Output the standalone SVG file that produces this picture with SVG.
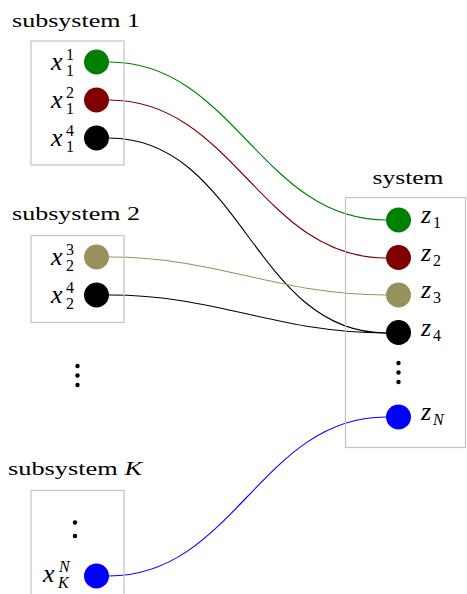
<svg xmlns="http://www.w3.org/2000/svg" width="467" height="594" viewBox="0 0 467 594" font-family="'Liberation Serif', serif">
<style>
.box{fill:none;stroke:#c4c4c4;stroke-width:1.2}
.title{font-size:19px}
.m{font-style:italic;font-size:26px}
.s{font-size:16px}
.si{font-style:italic;font-size:16px}
.c{fill:none;stroke-width:1.1}
</style>
<rect width="467" height="594" fill="#fff"/>
<g id="connectors">
<path class="c" stroke="#008000" d="M109,62 C234,62 261,220 386,220"/>
<path class="c" stroke="#800000" d="M109,100 C234,100 261,258 386,258"/>
<path class="c" stroke="#000" d="M109,138 C241.6,138 253.4,333 386,333"/>
<path class="c" stroke="#97915d" d="M109,257 C218.5,257 276.5,295 386,295"/>
<path class="c" stroke="#000" d="M109,295 C218.5,295 276.5,333 386,333"/>
<path class="c" stroke="#0000ff" d="M109,576 C234,576 261,417 386,417"/>
</g>
<g id="subsystem1">
<text class="title" x="12" y="27" textLength="128" lengthAdjust="spacingAndGlyphs">subsystem 1</text>
<rect class="box" x="31" y="41" width="93" height="124"/>
<circle cx="96.5" cy="62" r="12.5" fill="#008000"/>
<circle cx="96.5" cy="100" r="12.5" fill="#800000"/>
<circle cx="96.5" cy="138" r="12.5" fill="#000"/>
<text class="m" x="51" y="70">x</text><text class="s" x="66" y="60">1</text><text class="s" x="66" y="76">1</text>
<text class="m" x="51" y="108">x</text><text class="s" x="66" y="98">2</text><text class="s" x="66" y="114">1</text>
<text class="m" x="51" y="146">x</text><text class="s" x="66" y="136">4</text><text class="s" x="66" y="152">1</text>
</g>
<g id="subsystem2">
<text class="title" x="12" y="220" textLength="128" lengthAdjust="spacingAndGlyphs">subsystem 2</text>
<rect class="box" x="31" y="235.5" width="93" height="87"/>
<circle cx="96.5" cy="257" r="12.5" fill="#97915d"/>
<circle cx="96.5" cy="295" r="12.5" fill="#000"/>
<text class="m" x="51" y="265">x</text><text class="s" x="66" y="255">3</text><text class="s" x="66" y="271">2</text>
<text class="m" x="51" y="303">x</text><text class="s" x="66" y="293">4</text><text class="s" x="66" y="309">2</text>
</g>
<g id="dots-middle">
<circle cx="77.5" cy="366" r="2.2" fill="#000"/>
<circle cx="77.5" cy="375.5" r="2.2" fill="#000"/>
<circle cx="77.5" cy="385" r="2.2" fill="#000"/>
</g>
<g id="subsystemK">
<text class="title" x="8" y="475" textLength="134" lengthAdjust="spacingAndGlyphs">subsystem <tspan font-style="italic">K</tspan></text>
<rect class="box" x="31" y="490.5" width="93" height="120"/>
<circle cx="75" cy="522.5" r="2.2" fill="#000"/>
<circle cx="75" cy="536" r="2.2" fill="#000"/>
<circle cx="96.5" cy="576" r="12.5" fill="#0000ff"/>
<text class="m" x="43" y="582">x</text><text class="si" x="59" y="572">N</text><text class="si" x="58" y="588">K</text>
</g>
<g id="system">
<text class="title" x="372.5" y="184" textLength="71" lengthAdjust="spacingAndGlyphs">system</text>
<rect class="box" x="345.5" y="197.5" width="120" height="250"/>
<circle cx="398.5" cy="220" r="12.5" fill="#008000"/>
<circle cx="398.5" cy="257.5" r="12.5" fill="#800000"/>
<circle cx="398.5" cy="295" r="12.5" fill="#97915d"/>
<circle cx="398.5" cy="332.5" r="12.5" fill="#000"/>
<circle cx="398.5" cy="417" r="12.5" fill="#0000ff"/>
<circle cx="398.5" cy="363" r="2.2" fill="#000"/>
<circle cx="398.5" cy="372.5" r="2.2" fill="#000"/>
<circle cx="398.5" cy="382" r="2.2" fill="#000"/>
<text class="m" x="421" y="223">z</text><text class="s" x="433" y="228">1</text>
<text class="m" x="421" y="261">z</text><text class="s" x="433" y="266">2</text>
<text class="m" x="421" y="298">z</text><text class="s" x="433" y="303">3</text>
<text class="m" x="421" y="336">z</text><text class="s" x="433" y="341">4</text>
<text class="m" x="421" y="420">z</text><text class="si" x="433" y="425">N</text>
</g>
</svg>
